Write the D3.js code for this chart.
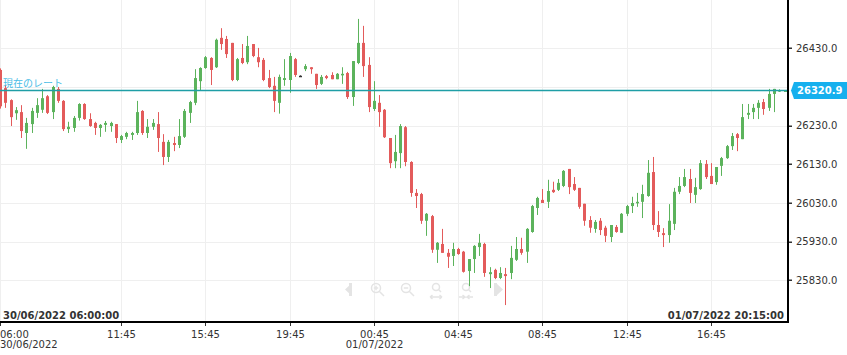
<!DOCTYPE html>
<html><head><meta charset="utf-8">
<script src="https://cdn.jsdelivr.net/npm/d3@7/dist/d3.min.js"></script>
<style>html,body{margin:0;padding:0;background:#fff;}svg{display:block;font-family:"DejaVu Sans",Verdana,sans-serif;}</style>
</head><body><div id="chart"></div>
<script>
// ---- data (15-minute candles, 30/06/2022 06:00 -> 01/07/2022 20:15) ----
const open  = [26374,26327,26296,26262,26265,26211,26234,26263,26271,26306,26265,26325,26294,26221,26224,26250,26286,26247,26237,26224,26232,26229,26234,26193,26201,26206,26211,26268,26211,26227,26234,26188,26149,26185,26180,26201,26263,26289,26345,26379,26405,26381,26457,26454,26444,26348,26405,26394,26441,26407,26400,26353,26333,26289,26348,26348,26402,26359,26376,26381,26364,26338,26358,26361,26350,26360,26366,26304,26392,26444,26387,26273,26289,26271,26198,26138,26159,26226,26136,26056,26053,25984,25996,25909,25924,25901,25893,25911,25904,25854,25885,25916,25924,25846,25857,25836,25846,25849,25883,25911,25904,25955,26017,26038,26033,26064,26064,26074,26118,26079,26069,26028,25986,25963,25984,25966,25942,25968,25953,26002,26022,26030,26033,26048,26110,25973,25952,25947,25976,26059,26074,26092,26051,26066,26131,26100,26084,26126,26146,26177,26208,26195,26258,26265,26276,26291,26276,26312,26318,26320];
const high  = [26378,26335,26298,26278,26283,26250,26276,26301,26325,26309,26333,26330,26296,26240,26255,26288,26288,26262,26240,26234,26242,26240,26234,26206,26214,26214,26294,26270,26247,26247,26265,26208,26193,26201,26247,26273,26294,26376,26381,26410,26407,26455,26482,26462,26444,26405,26441,26462,26441,26431,26405,26374,26356,26362,26402,26418,26405,26360,26389,26381,26364,26361,26361,26368,26366,26381,26369,26397,26506,26488,26407,26345,26309,26273,26198,26206,26234,26229,26138,26066,26056,26004,25999,25929,25963,25911,25927,25914,25906,25885,25921,25950,25927,25864,25860,25864,25862,25919,25942,25940,25965,26025,26046,26066,26090,26085,26092,26115,26118,26097,26069,26028,25996,25986,25991,25971,25973,25973,26004,26025,26046,26056,26077,26141,26149,26009,25965,26027,26069,26097,26118,26118,26095,26141,26141,26133,26123,26149,26180,26211,26211,26286,26286,26286,26296,26299,26325,26325,26324,26322];
const low   = [26274,26276,26229,26245,26198,26170,26211,26250,26263,26260,26247,26289,26216,26211,26214,26243,26245,26227,26206,26201,26214,26214,26185,26185,26195,26193,26206,26206,26198,26219,26162,26128,26136,26164,26172,26198,26237,26283,26322,26377,26335,26379,26426,26405,26345,26345,26389,26389,26407,26381,26345,26327,26265,26261,26333,26315,26356,26358,26371,26364,26325,26335,26350,26350,26350,26338,26299,26281,26389,26356,26265,26268,26227,26198,26120,26120,26120,26125,26046,26017,25976,25945,25901,25875,25901,25862,25867,25896,25850,25815,25849,25893,25839,25810,25833,25833,25766,25833,25880,25896,25875,25953,25999,26030,26017,26056,26061,26071,26053,26061,26015,25971,25953,25953,25947,25929,25929,25953,25953,25996,26004,26020,25991,26046,25960,25942,25916,25927,25960,26053,26071,26030,26030,26064,26092,26079,26077,26100,26144,26167,26164,26195,26247,26247,26247,26258,26268,26265,26317,26319];
const close = [26280,26289,26252,26270,26216,26237,26268,26283,26301,26263,26330,26294,26221,26227,26250,26286,26247,26229,26224,26232,26237,26237,26198,26203,26211,26211,26265,26211,26227,26237,26198,26149,26188,26180,26203,26268,26291,26353,26379,26407,26374,26452,26441,26415,26348,26402,26392,26436,26410,26394,26348,26330,26294,26356,26353,26410,26361,26359,26384,26376,26335,26356,26353,26350,26364,26364,26304,26397,26444,26384,26278,26294,26265,26200,26133,26162,26229,26136,26056,26048,25984,26002,25909,25927,25901,25891,25911,25898,25852,25885,25919,25927,25849,25851,25836,25849,25841,25888,25911,25901,25963,26022,26043,26030,26061,26058,26082,26113,26071,26064,26020,25984,25966,25981,25960,25945,25973,25955,26002,26022,26030,26033,26053,26108,25973,25955,25947,25984,26059,26074,26097,26056,26071,26133,26097,26079,26123,26146,26177,26203,26198,26252,26263,26276,26289,26273,26312,26325,26322,26321];
const currentRate = 26320.9;
const yTickValues = [25830, 25930, 26030, 26130, 26230, 26330, 26430];
const xTickIndex  = [0, 23, 39, 55, 71, 87, 103, 119, 135];
const xTickTime   = ["06:00","11:45","15:45","19:45","00:45","04:45","08:45","12:45","16:45"];
const xTickDate   = ["30/06/2022","","","","01/07/2022","","","",""];
const rangeStart = "30/06/2022 06:00:00";
const rangeEnd   = "01/07/2022 20:15:00";
const rateLabel  = "現在のレート";

// ---- layout ----
const W = 847, H = 355;
const plotR = 787, plotB = 322;
const svg = d3.select("#chart").append("svg").attr("width", W).attr("height", H);

const n = open.length;
const x = d3.scaleLinear().domain([0, n - 1]).range([0, 784.5]);
const y = d3.scaleLinear().domain([25722.2, 26554.9]).range([plotB, 0]);

svg.append("defs").append("clipPath").attr("id","clip")
  .append("rect").attr("x",0).attr("y",0).attr("width",plotR).attr("height",plotB);

// grid
const grid = svg.append("g").attr("clip-path","url(#clip)");
grid.selectAll("line.h").data(yTickValues).join("line")
  .attr("x1",0).attr("x2",plotR)
  .attr("y1",d=>Math.round(y(d))+0.5).attr("y2",d=>Math.round(y(d))+0.5)
  .attr("stroke","#efefef").attr("stroke-width",1);
grid.selectAll("line.v").data(xTickIndex).join("line")
  .attr("y1",0).attr("y2",plotB)
  .attr("x1",d=>Math.round(x(d))+0.5).attr("x2",d=>Math.round(x(d))+0.5)
  .attr("stroke","#efefef").attr("stroke-width",1);

// faint navigation icons
const nav = svg.append("g").attr("fill","none").attr("stroke","#e4e4e4").attr("stroke-width",1.5);
nav.append("path").attr("d","M352,283 L345,289.5 L352,296 Z").attr("fill","#e4e4e4").attr("stroke","none");
nav.append("rect").attr("x",349).attr("y",283).attr("width",3).attr("height",13).attr("fill","#e4e4e4").attr("stroke","none");
[[376,"+"],[406,"-"]].forEach(([cx,s])=>{
  nav.append("circle").attr("cx",cx).attr("cy",288).attr("r",4.5);
  nav.append("line").attr("x1",cx+3.2).attr("y1",291.2).attr("x2",cx+8).attr("y2",296);
  nav.append("line").attr("x1",cx-2.2).attr("x2",cx+2.2).attr("y1",288).attr("y2",288);
  if(s==="+") nav.append("line").attr("x1",cx).attr("x2",cx).attr("y1",285.8).attr("y2",290.2);
});
[436,466].forEach((cx,k)=>{
  nav.append("circle").attr("cx",cx).attr("cy",287).attr("r",3.5);
  nav.append("line").attr("x1",cx+2.5).attr("y1",289.5).attr("x2",cx+5).attr("y2",292);
  if(k===0){
    nav.append("path").attr("d",`M${cx-6},297 L${cx+6},297 M${cx-6},297 l2.5,-2 M${cx-6},297 l2.5,2 M${cx+6},297 l-2.5,-2 M${cx+6},297 l-2.5,2`);
  } else {
    nav.append("path").attr("d",`M${cx-7},297 L${cx-1},297 l-2.5,-2 M${cx-1},297 l-2.5,2 M${cx+7},297 L${cx+1},297 l2.5,-2 M${cx+1},297 l2.5,2`);
  }
});
nav.append("rect").attr("x",494).attr("y",283).attr("width",3).attr("height",13).attr("fill","#e4e4e4").attr("stroke","none");
nav.append("path").attr("d","M496,283 L503,289.5 L496,296 Z").attr("fill","#e4e4e4").attr("stroke","none");

// candles
const green = "#5cb35c", red = "#e35b5b", doji = "#333";
const col = i => close[i] > open[i] ? green : (close[i] < open[i] ? red : doji);
const cg = svg.append("g").attr("clip-path","url(#clip)");
const idx = d3.range(n);
cg.selectAll("line.wick").data(idx).join("line")
  .attr("x1",i=>Math.round(x(i))+0.5).attr("x2",i=>Math.round(x(i))+0.5)
  .attr("y1",i=>y(high[i])).attr("y2",i=>y(low[i]))
  .attr("stroke",col).attr("stroke-width",1);
cg.selectAll("rect.body").data(idx).join("rect")
  .attr("x",i=>Math.round(x(i))-1).attr("width",3)
  .attr("y",i=>y(Math.max(open[i],close[i])))
  .attr("height",i=>Math.max(1.5, Math.abs(y(open[i])-y(close[i]))))
  .attr("fill",col);

// current rate line
svg.append("line").attr("x1",0).attr("x2",plotR)
  .attr("y1",y(currentRate)).attr("y2",y(currentRate))
  .attr("stroke","#1f9ea6").attr("stroke-width",1.3);
svg.append("text").attr("x",3).attr("y",y(currentRate)-3)
  .attr("font-size",10).attr("fill","#49bde6")
  .attr("font-family","'Noto Sans CJK JP',sans-serif").text(rateLabel);

// axes lines
svg.append("line").attr("x1",plotR+1).attr("x2",plotR+1).attr("y1",0).attr("y2",plotB+1)
  .attr("stroke","#000").attr("stroke-width",2);
svg.append("line").attr("x1",0).attr("x2",plotR+2).attr("y1",plotB).attr("y2",plotB)
  .attr("stroke","#000").attr("stroke-width",2);

// y axis ticks/labels
const ya = svg.append("g");
yTickValues.filter(v => Math.abs(y(v)-y(currentRate)) > 8).forEach(v=>{
  ya.append("rect").attr("x",plotR+2).attr("y",Math.round(y(v))-0.5).attr("width",3).attr("height",1.5).attr("fill","#333");
  ya.append("text").attr("x",796).attr("y",y(v)+3.8).attr("font-size",10).attr("fill","#333").text(d3.format(".1f")(v));
});

// current rate tag
const ty = y(currentRate);
svg.append("path")
  .attr("d",`M${plotR+4},${ty} L${plotR+7},${ty-8.5} L${W},${ty-8.5} L${W},${ty+8.5} L${plotR+7},${ty+8.5} Z`)
  .attr("fill","#16b0ee");
svg.append("text").attr("x",797).attr("y",ty+3.8).attr("font-size",10).attr("font-weight","bold")
  .attr("fill","#fff").text(d3.format(".1f")(currentRate));

// x axis ticks/labels
const xa = svg.append("g").attr("font-size",10).attr("fill","#333");
xTickIndex.forEach((t,k)=>{
  const px = Math.round(x(t))+0.5;
  xa.append("line").attr("x1",px).attr("x2",px).attr("y1",plotB+1).attr("y2",plotB+4).attr("stroke","#333").attr("stroke-width",1);
  const anchor = k===0 ? "start" : "middle";
  const tx = k===0 ? 0 : px;
  xa.append("text").attr("x",tx).attr("y",338).attr("text-anchor",anchor).text(xTickTime[k]);
  if (xTickDate[k]) xa.append("text").attr("x",tx).attr("y",348).attr("text-anchor",anchor).text(xTickDate[k]);
});

// range labels
svg.append("text").attr("x",3).attr("y",319).attr("font-size",10).attr("font-weight","bold").attr("fill","#333").text(rangeStart);
svg.append("text").attr("x",784).attr("y",319).attr("text-anchor","end").attr("font-size",10).attr("font-weight","bold").attr("fill","#333").text(rangeEnd);
</script></body></html>
